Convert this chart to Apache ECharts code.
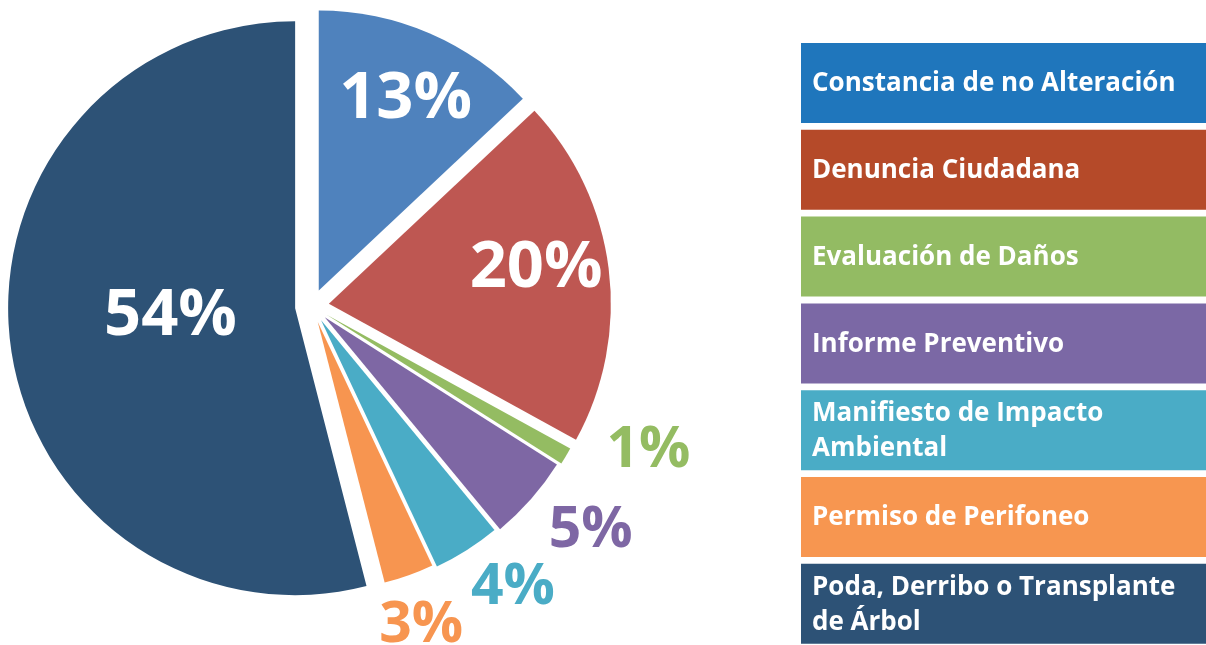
<!DOCTYPE html>
<html>
<head>
<meta charset="utf-8">
<script src="https://cdn.jsdelivr.net/npm/echarts@6/dist/echarts.min.js"></script>
<style>
html,body{margin:0;padding:0;background:#fff;}
#chart{width:1206px;height:645px;}
</style>
</head>
<body>
<div id="chart"></div>
<script>
// ---- data ----
const categories = [
  'Constancia de no Alteración',
  'Denuncia Ciudadana',
  'Evaluación de Daños',
  'Informe Preventivo',
  'Manifiesto de Impacto Ambiental',
  'Permiso de Perifoneo',
  'Poda, Derribo o Transplante de Árbol'
];
const values = [13, 20, 1, 5, 4, 3, 54];
const percentLabels = ['13%', '20%', '1%', '5%', '4%', '3%', '54%'];

// ---- styles ----
const sliceColors  = ['#4F82BD', '#BE5752', '#94BC62', '#7E67A4', '#4AACC6', '#F79550', '#2D5276'];
const legendColors = ['#1F76BC', '#B54A29', '#93BB63', '#7B68A5', '#4AACC6', '#F79650', '#2D5276'];
const labelInside  = [true, true, false, false, false, false, true];
const labelRatio   = [0.74, 0.74, 1.23, 1.2, 1.16, 1.13, 0.44];
const labelTurn    = [1, -2.4, -7.7, -2.7, -3.2, 1, 3.2];
const sliceRadius  = [280, 282, 278, 275, 272, 269, 287];

// ---- layout ----
const CX = 312, CY = 306, R = 284, OFFSET = 17;
const FONT = '"Open Sans", "Noto Sans", sans-serif';

const total = values.reduce((a, b) => a + b, 0);
function bisector(i) {
  let cum = 0;
  for (let k = 0; k < i; k++) cum += values[k];
  return (cum + values[i] / 2) / total * 360;
}
const rad = a => a * Math.PI / 180;

const chart = echarts.init(document.getElementById('chart'), null, {renderer: 'canvas'});

// one pie series per slice: same data (same angles), only one slice visible,
// centre pushed outward along that slice's bisector (exploded pie)
const series = categories.map((_, i) => {
  const b = rad(bisector(i));
  return {
    type: 'pie',
    silent: true,
    center: [CX + OFFSET * Math.sin(b), CY - OFFSET * Math.cos(b)],
    radius: [0, sliceRadius[i]],
    startAngle: 90,
    clockwise: true,
    avoidLabelOverlap: false,
    label: {show: false},
    labelLine: {show: false},
    emphasis: {disabled: true},
    data: categories.map((name, j) => ({
      name: name,
      value: values[j],
      itemStyle: {color: j === i ? sliceColors[j] : 'rgba(0,0,0,0)'}
    }))
  };
});

// label series (transparent slices) carrying the percentage labels
series.push({
  type: 'pie',
  silent: true,
  center: [CX, CY],
  radius: [0, R],
  startAngle: 90,
  clockwise: true,
  avoidLabelOverlap: false,
  emphasis: {disabled: true},
  itemStyle: {color: 'rgba(0,0,0,0)'},
  label: {
    show: true,
    position: 'outside',
    formatter: p => percentLabels[p.dataIndex],
    fontFamily: FONT,
    fontWeight: 'bold'
  },
  labelLine: {show: false, length: 0, length2: 0},
  labelLayout: function (params) {
    let i = params.dataIndex;
    if (i == null) i = percentLabels.indexOf(params.text);
    const b = rad(bisector(i));
    const a = rad(bisector(i) + labelTurn[i]);
    const r = labelRatio[i] * R;
    return {
      x: CX + OFFSET * Math.sin(b) + r * Math.sin(a),
      y: CY - OFFSET * Math.cos(b) - r * Math.cos(a),
      align: 'center',
      verticalAlign: 'middle'
    };
  },
  data: categories.map((name, i) => ({
    name: name,
    value: values[i],
    label: {
      color: labelInside[i] ? '#ffffff' : sliceColors[i],
      fontSize: labelInside[i] ? 65 : 57
    }
  }))
});

const graphics = [];
const boxTop0 = 43, boxPitch = 86.8, boxH = 80;
categories.forEach((name, i) => {
  const top = boxTop0 + i * boxPitch;
  graphics.push({
    type: 'rect',
    shape: {x: 801, y: top, width: 405, height: boxH},
    style: {fill: legendColors[i]},
    silent: true
  });
  graphics.push({
    type: 'text',
    x: 812,
    y: top + boxH / 2 + 1,
    silent: true,
    style: {
      text: name,
      fill: '#ffffff',
      font: 'bold 26px ' + FONT,
      verticalAlign: 'middle',
      align: 'left',
      width: 395,
      overflow: 'break',
      lineHeight: 35
    }
  });
});

chart.setOption({
  animation: false,
  backgroundColor: '#ffffff',
  graphic: graphics,
  series: series
});
</script>
</body>
</html>
